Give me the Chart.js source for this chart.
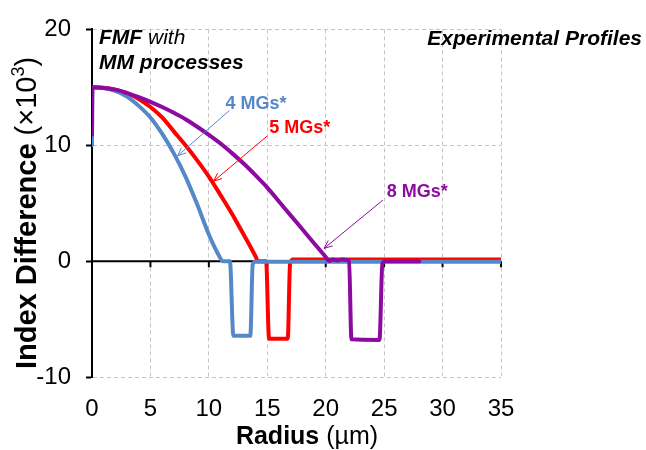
<!DOCTYPE html>
<html lang="en">
<head>
<meta charset="UTF-8">
<title>Experimental Profiles</title>
<script src="https://cdn.jsdelivr.net/npm/chart.js"></script>
<style>
    html, body {
        margin: 0;
        padding: 0;
        background: #fff;
    }
</style>
</head>
<body>
<canvas id="profileChart" width="646" height="450"></canvas>
<script>
// radius in um, index difference in units of 10^-3
const mg4Radius = [0, 0.03, 1, 2, 3, 4, 5, 6, 7, 8, 9, 10, 10.8, 11.2, 11.8, 12.1, 13.55, 13.75, 14.0, 35];
const mg4Index  = [10.0, 15, 14.95, 14.7, 14.2, 13.4, 12.4, 11.0, 9.3, 7.3, 4.9, 2.3, 0.6, 0.0, 0.0, -6.45, -6.45, -0.3, -0.05, -0.05];

const mg5Radius = [0, 1, 2, 3, 4, 5, 6, 7, 8, 9, 10, 11, 12, 13, 13.5, 14, 14.2, 14.9, 15.15, 16.75, 16.95, 17.2, 35];
const mg5Index  = [15, 14.97, 14.8, 14.5, 14.0, 13.3, 12.4, 11.2, 10.0, 8.7, 7.3, 5.7, 4.05, 2.25, 1.35, 0.4, 0.0, 0.0, -6.7, -6.7, -0.2, 0.15, 0.15];

const mg8Radius = [0, 0.03, 1, 2, 3, 4, 5, 6, 7, 8, 9, 10, 11, 12, 13, 14, 15, 16, 17, 18, 19, 20, 20.3, 20.6, 21.0, 21.4, 21.8, 22.0, 22.2, 24.6, 24.85, 25.1, 28];
const mg8Index  = [10.9, 15, 14.95, 14.8, 14.5, 14.15, 13.75, 13.3, 12.8, 12.25, 11.6, 10.9, 10.15, 9.3, 8.4, 7.4, 6.35, 5.15, 3.95, 2.75, 1.55, 0.35, 0.0, 0.15, 0.05, 0.15, 0.1, 0.05, -6.75, -6.8, -0.2, 0.0, 0.0];

const radiusTicks = [0, 5, 10, 15, 20, 25, 30, 35];
const indexTicks = [-10, 0, 10, 20];

const FONT = "'Liberation Sans', Arial, sans-serif";
const BLUE = '#5588c8';
const RED = '#ff0000';
const PURPLE = '#8c0aa0';
const GRID = '#c4c4c4';

function toPoints(xs, ys) {
    return xs.map((x, i) => ({ x: x, y: ys[i] }));
}

// labels with a thin arrow pointing at each curve (data coordinates)
const callouts = [
    { text: '4 MGs*', color: BLUE,   at: [11.42, 13.6], from: [11.76, 13.0], to: [7.33, 9.1] },
    { text: '5 MGs*', color: RED,    at: [15.17, 11.47], from: [15.0, 10.8], to: [10.4, 6.9] },
    { text: '8 MGs*', color: PURPLE, at: [25.23, 5.95], from: [24.9, 5.27], to: [19.86, 1.1] }
];

function drawArrow(ctx, x1, y1, x2, y2, color) {
    const ang = Math.atan2(y2 - y1, x2 - x1);
    const len = 9;
    ctx.save();
    ctx.strokeStyle = color;
    ctx.lineWidth = 1;
    ctx.beginPath();
    ctx.moveTo(x1, y1);
    ctx.lineTo(x2, y2);
    ctx.moveTo(x2 - len * Math.cos(ang - 0.4), y2 - len * Math.sin(ang - 0.4));
    ctx.lineTo(x2, y2);
    ctx.lineTo(x2 - len * Math.cos(ang + 0.4), y2 - len * Math.sin(ang + 0.4));
    ctx.stroke();
    ctx.restore();
}

// solid zero line with its small tick marks, drawn under the curves
const zeroAxis = {
    id: 'zeroAxis',
    beforeDatasetsDraw(chart) {
        const { ctx, chartArea, scales: { x, y } } = chart;
        const y0 = y.getPixelForValue(0);
        ctx.save();
        ctx.strokeStyle = '#000';
        ctx.lineWidth = 2;
        ctx.beginPath();
        ctx.moveTo(chartArea.left, y0);
        ctx.lineTo(chartArea.right, y0);
        radiusTicks.forEach(r => {
            if (r === 0) return;
            const px = x.getPixelForValue(r);
            ctx.moveTo(px, y0);
            ctx.lineTo(px, y0 + 6);
        });
        ctx.stroke();
        ctx.restore();
    }
};

const labels = {
    id: 'labels',
    afterDraw(chart) {
        const { ctx, chartArea, scales: { x, y } } = chart;
        ctx.save();
        ctx.textBaseline = 'middle';

        // callouts
        callouts.forEach(c => {
            drawArrow(ctx, x.getPixelForValue(c.from[0]), y.getPixelForValue(c.from[1]),
                x.getPixelForValue(c.to[0]), y.getPixelForValue(c.to[1]), c.color);
            ctx.fillStyle = c.color;
            ctx.font = 'bold 18px ' + FONT;
            ctx.textAlign = 'left';
            ctx.fillText(c.text, x.getPixelForValue(c.at[0]), y.getPixelForValue(c.at[1]));
        });

        // corner notes
        ctx.fillStyle = '#000';
        ctx.textAlign = 'left';
        ctx.font = 'italic bold 21px ' + FONT;
        ctx.fillText('FMF ', 99, 38);
        const w = ctx.measureText('FMF ').width;
        ctx.font = 'italic 21px ' + FONT;
        ctx.fillText('with', 99 + w, 38);
        ctx.font = 'italic bold 21px ' + FONT;
        ctx.fillText('MM processes', 99, 63);
        ctx.textAlign = 'right';
        ctx.fillText('Experimental Profiles', 642, 39);

        // x axis title
        ctx.textAlign = 'left';
        ctx.font = 'bold 25px ' + FONT;
        const xb = 'Radius ';
        const wb = ctx.measureText(xb).width;
        ctx.font = '25px ' + FONT;
        const wn = ctx.measureText('(\u00b5m)').width;
        let sx = 307 - (wb + wn) / 2;
        ctx.font = 'bold 25px ' + FONT;
        ctx.fillText(xb, sx, 437);
        ctx.font = '25px ' + FONT;
        ctx.fillText('(\u00b5m)', sx + wb, 437);

        // y axis title, rotated, with a superscript exponent
        ctx.translate(28, 213);
        ctx.rotate(-Math.PI / 2);
        const parts = [
            { t: 'Index Difference ', f: 'bold 29px ' + FONT, dy: 0 },
            { t: '(\u00d710', f: '29px ' + FONT, dy: 0 },
            { t: '3', f: '18px ' + FONT, dy: -9 },
            { t: ')', f: '29px ' + FONT, dy: 0 }
        ];
        let total = 0;
        parts.forEach(p => { ctx.font = p.f; p.w = ctx.measureText(p.t).width; total += p.w; });
        let px = -total / 2;
        parts.forEach(p => {
            ctx.font = p.f;
            ctx.fillText(p.t, px, p.dy);
            px += p.w;
        });
        ctx.restore();
    }
};

function series(label, xs, ys, color, order) {
    return {
        label: label,
        data: toPoints(xs, ys),
        borderColor: color,
        backgroundColor: color,
        borderWidth: 4,
        pointRadius: 0,
        cubicInterpolationMode: 'monotone',
        borderJoinStyle: 'round',
        borderCapStyle: 'round',
        fill: false,
        order: order
    };
}

new Chart(document.getElementById('profileChart').getContext('2d'), {
    type: 'line',
    data: {
        datasets: [
            series('8 MGs*', mg8Radius, mg8Index, PURPLE, 0),
            series('4 MGs*', mg4Radius, mg4Index, BLUE, 1),
            series('5 MGs*', mg5Radius, mg5Index, RED, 2)
        ]
    },
    options: {
        responsive: false,
        animation: false,
        layout: { padding: { left: 0, right: 145, top: 24, bottom: 0 } },
        plugins: {
            legend: { display: false },
            tooltip: { enabled: false }
        },
        scales: {
            x: {
                type: 'linear',
                min: 0,
                max: 35,
                afterBuildTicks: s => { s.ticks = radiusTicks.map(v => ({ value: v })); },
                afterFit: s => { s.height = 73; },
                border: { display: false, dash: [4, 3] },
                grid: {
                    color: c => (c.tick && c.tick.value === 0) ? 'rgba(0,0,0,0)' : GRID,
                    lineWidth: 1,
                    drawTicks: false
                },
                ticks: {
                    color: '#000',
                    font: { family: FONT, size: 24 },
                    padding: 18,
                    maxRotation: 0
                }
            },
            y: {
                min: -10,
                max: 20,
                afterBuildTicks: s => { s.ticks = indexTicks.map(v => ({ value: v })); },
                afterFit: s => { s.width = 92; },
                border: { display: true, color: '#000', width: 2, dash: [4, 3] },
                grid: {
                    color: c => (c.tick && c.tick.value === 0) ? 'rgba(0,0,0,0)' : GRID,
                    lineWidth: 1,
                    drawTicks: true,
                    tickLength: 6,
                    tickColor: '#000',
                    tickWidth: 2
                },
                ticks: {
                    color: '#000',
                    font: { family: FONT, size: 24 },
                    padding: 15
                }
            }
        }
    },
    plugins: [zeroAxis, labels]
});
</script>
</body>
</html>
